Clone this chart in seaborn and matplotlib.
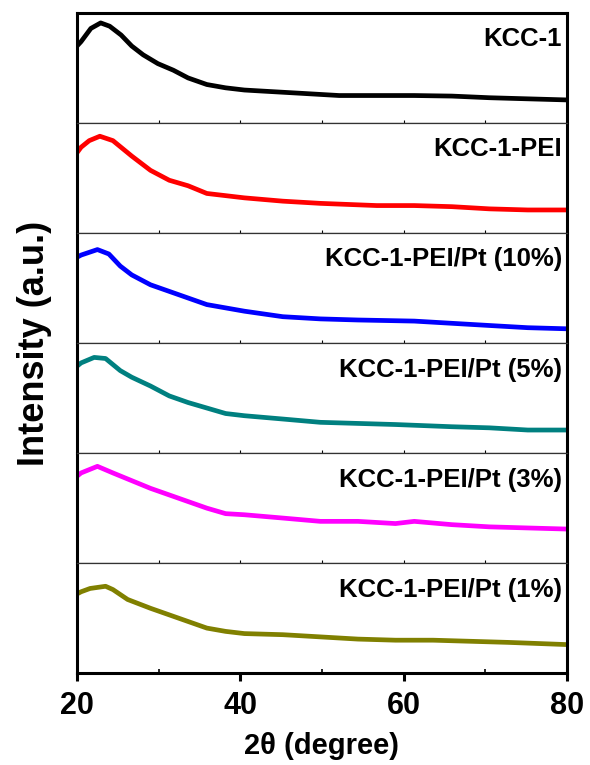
import numpy as np
import pandas as pd
import seaborn as sns
import matplotlib.pyplot as plt
from matplotlib.ticker import MultipleLocator

# values: 2theta (degree) and relative intensity (a.u.)
two_theta_kcc1 = [20.0, 20.5, 21.7, 22.9, 24.0, 25.4, 26.7, 28.1, 29.9, 31.8, 33.6, 35.9, 38.2, 40.5, 42.8, 47.5, 52.1, 56.7, 61.3, 65.9, 70.5, 75.2, 80.0]
int_kcc1 = [70, 74, 86, 91, 88, 80, 70, 62, 54, 48, 41, 35, 32, 30, 29, 27, 25, 25, 25, 24.5, 23, 22, 21]

two_theta_pei = [20.0, 20.5, 21.5, 22.8, 24.4, 26.7, 29.0, 31.3, 33.6, 35.9, 38.2, 40.5, 45.2, 49.8, 56.7, 61.3, 65.9, 70.5, 75.2, 80.0]
int_pei = [73, 78, 84, 88, 84, 70, 57, 48, 43, 36, 34, 32, 29, 27, 25, 25, 24, 22, 21, 21]

two_theta_pt10 = [20.0, 20.5, 22.5, 23.9, 25.3, 26.7, 29.0, 31.3, 33.6, 35.9, 38.2, 40.5, 45.2, 49.8, 54.4, 61.3, 65.9, 70.5, 75.2, 80.0]
int_pt10 = [78, 80, 85, 81, 70, 62, 53, 47, 41, 35, 32, 29, 24, 22, 21, 20, 18, 16, 14, 13]

two_theta_pt5 = [20.0, 20.5, 22.1, 23.5, 25.3, 26.7, 29.0, 31.3, 33.6, 35.9, 38.2, 40.5, 45.2, 49.8, 54.4, 59.0, 65.9, 70.5, 75.2, 80.0]
int_pt5 = [79, 82, 87, 86, 75, 69, 61, 52, 46, 41, 36, 34, 31, 28, 27, 26, 24, 23, 21, 21]

two_theta_pt3 = [20.0, 20.5, 22.5, 24.4, 26.7, 29.0, 31.3, 33.6, 35.9, 38.2, 40.5, 45.2, 49.8, 54.4, 59.0, 61.3, 65.9, 70.5, 75.2, 80.0]
int_pt3 = [79, 82, 88, 82, 75, 68, 62, 56, 50, 45, 44, 41, 38, 38, 36, 38, 35, 33, 32, 31]

two_theta_pt1 = [20.0, 20.5, 21.6, 23.5, 24.4, 26.2, 29.0, 31.3, 33.6, 35.9, 38.2, 40.5, 45.2, 49.8, 54.4, 59.0, 63.6, 68.2, 72.8, 80.0]
int_pt1 = [72, 74, 77, 79, 76, 67, 59, 53, 47, 41, 38, 36, 35, 33, 31, 30, 30, 29, 28, 26]

samples = ["KCC-1", "KCC-1-PEI", "KCC-1-PEI/Pt (10%)", "KCC-1-PEI/Pt (5%)", "KCC-1-PEI/Pt (3%)", "KCC-1-PEI/Pt (1%)"]
colors = ["#000000", "#FF0000", "#0000FF", "#008080", "#FF00FF", "#808000"]
x_ticks = [20, 40, 60, 80]

series = [
    (two_theta_kcc1, int_kcc1),
    (two_theta_pei, int_pei),
    (two_theta_pt10, int_pt10),
    (two_theta_pt5, int_pt5),
    (two_theta_pt3, int_pt3),
    (two_theta_pt1, int_pt1),
]

sns.set_theme(style="ticks")
plt.rcParams['font.family'] = ['Liberation Sans', 'DejaVu Sans']
plt.rcParams['font.weight'] = 'bold'
plt.rcParams['text.color'] = 'black'
plt.rcParams['axes.labelcolor'] = 'black'
plt.rcParams['xtick.color'] = 'black'

fig, axes = plt.subplots(len(samples), 1, figsize=(5.9, 7.65), dpi=100, sharex=True)
fig.subplots_adjust(left=0.1305, right=0.961, top=0.983, bottom=0.12, hspace=0)

for i, (ax, name, col, (tt, it)) in enumerate(zip(axes, samples, colors, series)):
    df = pd.DataFrame({"two_theta": tt, "intensity": it})
    sns.lineplot(data=df, x="two_theta", y="intensity", ax=ax, color=col, linewidth=3.4)
    ax.set_xlim(20, 80)
    ax.set_ylim(0, 100)
    ax.set_yticks([])
    ax.set_ylabel("")
    ax.set_xlabel("")
    ax.text(0.99, 0.76, name, transform=ax.transAxes, ha="right", va="center",
            fontsize=18.5, fontweight="bold", color="black")
    for side in ["left", "right"]:
        ax.spines[side].set_linewidth(2.2)
        ax.spines[side].set_color("black")
    ax.spines["top"].set_linewidth(2.2 if i == 0 else 0.9)
    ax.spines["bottom"].set_linewidth(2.2 if i == len(samples) - 1 else 0.9)
    ax.spines["top"].set_color("black" if i == 0 else "#333333")
    ax.spines["bottom"].set_color("black" if i == len(samples) - 1 else "#333333")
    ax.xaxis.set_minor_locator(MultipleLocator(10))
    if i < len(samples) - 1:
        ax.tick_params(axis="x", which="both", direction="in", length=2, width=0.8, labelbottom=False)
    else:
        ax.tick_params(axis="x", which="major", direction="out", length=6, width=2.2,
                       labelsize=22, pad=7)
        ax.tick_params(axis="x", which="minor", direction="in", length=3, width=1.2)

axes[-1].set_xticks(x_ticks)
for lab in axes[-1].get_xticklabels():
    lab.set_fontweight("bold")
axes[-1].set_xlabel("2θ (degree)", fontsize=21, fontweight="bold", labelpad=8)
fig.text(0.058, (0.983 + 0.12) / 2, "Intensity (a.u.)", rotation=90, ha="center", va="center",
         fontsize=26, fontweight="bold")

fig.savefig("out.png", dpi=100)
